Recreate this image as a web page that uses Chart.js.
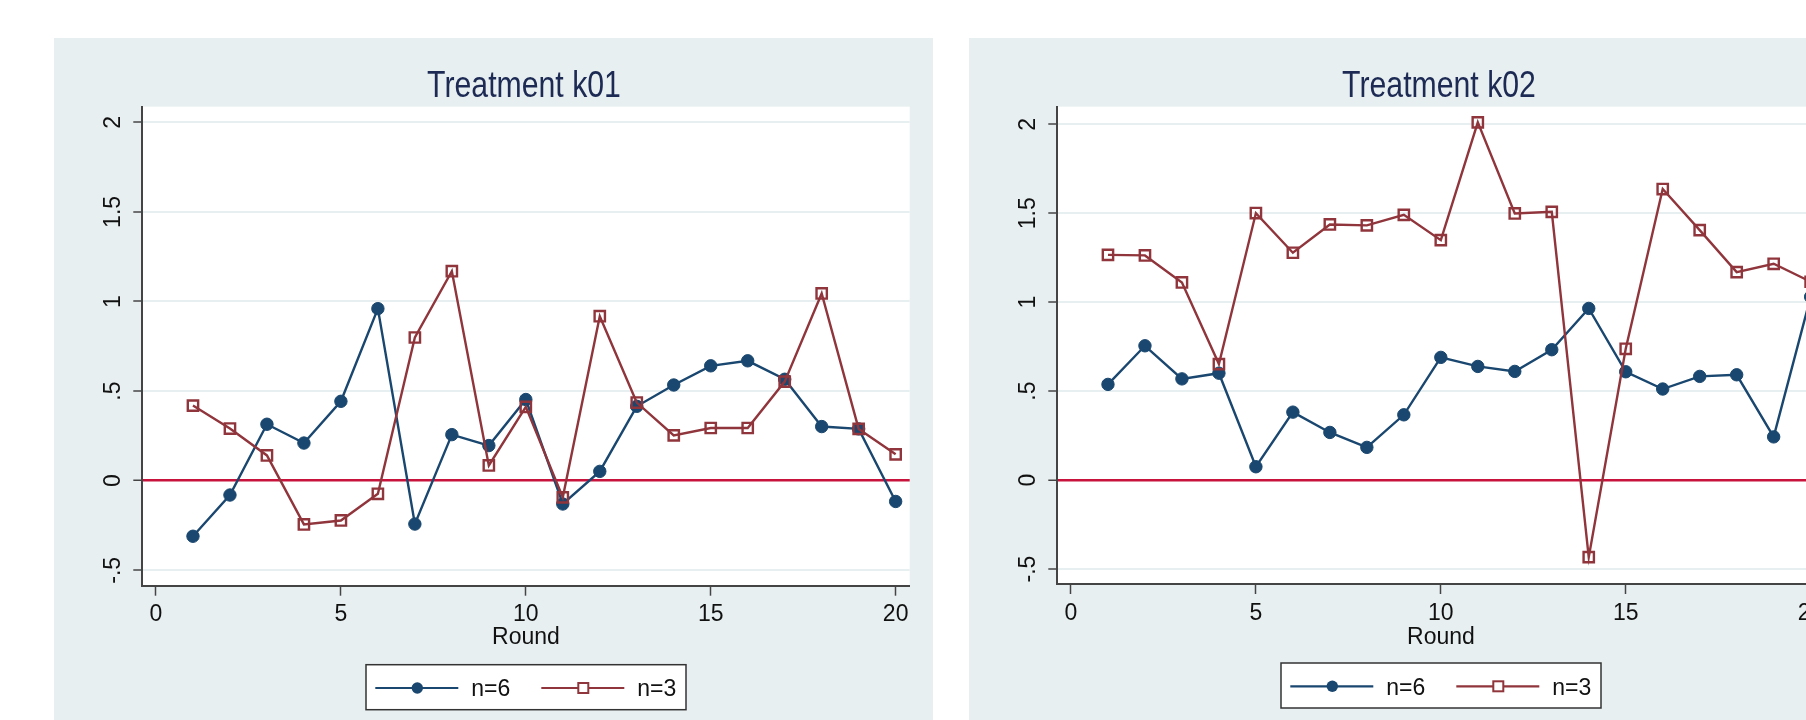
<!DOCTYPE html>
<html>
<head>
<meta charset="utf-8">
<title>Treatment k01 / k02</title>
<script src="https://cdn.jsdelivr.net/npm/chart.js@4.4.1/dist/chart.umd.min.js"></script>
<style>
  html, body { margin: 0; padding: 0; background: #fff; overflow: hidden; }
  #page { position: relative; width: 1806px; height: 720px; overflow: hidden; background: #fff; }
  .panel { position: absolute; top: 38px; width: 879px; height: 682px; background: #e8eff1; }
  #panel1 { left: 54px; }
  #panel2 { left: 969px; }
</style>
</head>
<body>
<div id="page">
  <div class="panel" id="panel1"><canvas id="k01" width="879" height="682"></canvas></div>
  <div class="panel" id="panel2"><canvas id="k02" width="879" height="682"></canvas></div>
</div>
<script>
// data
const rounds = [1, 2, 3, 4, 5, 6, 7, 8, 9, 10, 11, 12, 13, 14, 15, 16, 17, 18, 19, 20];
const seriesLabels = ['n=6', 'n=3'];
const panelTitles = ['Treatment k01', 'Treatment k02'];
const xAxisTitle = 'Round';

const k01N6 = [-0.31, -0.08, 0.315, 0.21, 0.443, 0.96, -0.242, 0.257, 0.196, 0.453,
               -0.13, 0.052, 0.415, 0.534, 0.641, 0.669, 0.566, 0.302, 0.289, -0.116];
const k01N3 = [0.419, 0.291, 0.141, -0.244, -0.222, -0.073, 0.799, 1.169, 0.085, 0.412,
               -0.093, 0.918, 0.436, 0.253, 0.294, 0.294, 0.553, 1.045, 0.289, 0.147];
const k02N6 = [0.538, 0.755, 0.569, 0.601, 0.075, 0.382, 0.268, 0.184, 0.367, 0.69,
               0.639, 0.611, 0.733, 0.965, 0.609, 0.512, 0.583, 0.592, 0.243, 1.03];
const k02N3 = [1.266, 1.263, 1.111, 0.652, 1.501, 1.278, 1.437, 1.432, 1.491, 1.349,
               2.011, 1.499, 1.508, -0.433, 0.738, 1.636, 1.405, 1.169, 1.216, 1.115];

const xTicks = [0, 5, 10, 15, 20];
const yTicks = [-0.5, 0, 0.5, 1, 1.5, 2];
const yTickLabels = ['-.5', '0', '.5', '1', '1.5', '2'];

const FONT = '"Liberation Sans", Arial, sans-serif';
const NAVY = '#1a476f';
const MAROON = '#90353b';
const ZERO_RED = '#c8143c';
const GRID = '#e8eff1';
const AXIS = '#444';

// white plot region like Stata's plotregion
const plotBackground = {
  id: 'plotBackground',
  beforeDraw(chart) {
    const { ctx, chartArea: a } = chart;
    ctx.save();
    ctx.fillStyle = '#fff';
    ctx.fillRect(a.left, a.top, a.right - a.left, a.bottom - a.top);
    ctx.restore();
  }
};

// the title in the picture is a narrow face, so squeeze it a bit
const condensedTitle = {
  id: 'condensedTitle',
  afterDraw(chart, args, opts) {
    const { ctx, chartArea } = chart;
    ctx.save();
    ctx.font = '36px ' + FONT;
    ctx.fillStyle = opts.color;
    ctx.textAlign = 'center';
    ctx.textBaseline = 'alphabetic';
    ctx.translate((chartArea.left + chartArea.right) / 2 - 2, chartArea.top - 9.4);
    ctx.scale(0.84, 1);
    ctx.fillText(opts.text, 0, 0);
    ctx.restore();
  }
};

// boxed legend: line with the marker sitting in the middle
const stataLegend = {
  id: 'stataLegend',
  afterDraw(chart) {
    const { ctx, chartArea } = chart;
    const boxW = 320, boxH = 45;
    const left = (chartArea.left + chartArea.right) / 2 - boxW / 2;
    const top = chartArea.bottom + 79;
    ctx.save();
    ctx.fillStyle = '#fff';
    ctx.fillRect(left, top, boxW, boxH);
    ctx.strokeStyle = '#333';
    ctx.lineWidth = 1.5;
    ctx.strokeRect(left, top, boxW, boxH);

    const lineY = top + 23.3;
    chart.data.datasets.forEach((ds, i) => {
      const x0 = left + 9.3 + i * 166;
      ctx.strokeStyle = ds.borderColor;
      ctx.lineWidth = 2.2;
      ctx.beginPath();
      ctx.moveTo(x0, lineY);
      ctx.lineTo(x0 + 83, lineY);
      ctx.stroke();
      const mx = x0 + 42;
      if (ds.pointStyle === 'circle') {
        ctx.fillStyle = ds.borderColor;
        ctx.beginPath();
        ctx.arc(mx, lineY, 5.7, 0, Math.PI * 2);
        ctx.fill();
      } else {
        ctx.fillStyle = '#fff';
        ctx.fillRect(mx - 5, lineY - 5, 10, 10);
        ctx.lineWidth = 2;
        ctx.strokeRect(mx - 5, lineY - 5, 10, 10);
      }
      ctx.fillStyle = '#111';
      ctx.font = '23px ' + FONT;
      ctx.textBaseline = 'alphabetic';
      ctx.textAlign = 'left';
      ctx.fillText(ds.label, x0 + 96, top + 31.7);
    });
    ctx.restore();
  }
};

function toPoints(values) {
  return rounds.map((r, i) => ({ x: r, y: values[i] }));
}

function makePanel(canvasId, title, n6, n3, yMin, yMax, xAxisHeight) {
  const ctx = document.getElementById(canvasId).getContext('2d');
  return new Chart(ctx, {
    type: 'line',
    data: {
      datasets: [
        {
          label: seriesLabels[0],
          data: toPoints(n6),
          borderColor: NAVY,
          backgroundColor: NAVY,
          borderWidth: 2.4,
          pointStyle: 'circle',
          pointRadius: 6.2,
          pointBackgroundColor: NAVY,
          pointBorderColor: NAVY,
          pointBorderWidth: 1,
          tension: 0,
          order: 2
        },
        {
          label: seriesLabels[1],
          data: toPoints(n3),
          borderColor: MAROON,
          backgroundColor: MAROON,
          borderWidth: 2.4,
          pointStyle: 'rect',
          pointRadius: 7.3,
          pointBackgroundColor: 'rgba(0,0,0,0)',
          pointBorderColor: MAROON,
          pointBorderWidth: 2.4,
          tension: 0,
          order: 1
        }
      ]
    },
    options: {
      responsive: false,
      animation: false,
      devicePixelRatio: 1,
      layout: { padding: { left: 0, top: 68.7, right: 23.3, bottom: 0 } },
      plugins: {
        legend: { display: false },
        tooltip: { enabled: false },
        title: { display: false },
        condensedTitle: { text: title, color: '#1c2a54' }
      },
      scales: {
        x: {
          type: 'linear',
          min: -0.37,
          max: 20.38,
          afterBuildTicks: scale => { scale.ticks = xTicks.map(v => ({ value: v })); },
          afterFit: scale => { scale.height = xAxisHeight; },
          ticks: {
            autoSkip: false,
            maxRotation: 0,
            padding: 5.5,
            color: '#111',
            font: { family: FONT, size: 23 },
            callback: v => String(v)
          },
          grid: {
            drawOnChartArea: false,
            drawTicks: true,
            tickLength: 10,
            tickColor: AXIS,
            tickWidth: 1.5
          },
          border: { display: true, color: AXIS, width: 2 },
          title: {
            display: true,
            text: xAxisTitle,
            color: '#111',
            font: { family: FONT, size: 23 },
            padding: { top: 0, bottom: 68.5 }
          }
        },
        y: {
          type: 'linear',
          min: yMin,
          max: yMax,
          afterBuildTicks: scale => { scale.ticks = yTicks.map(v => ({ value: v })); },
          afterFit: scale => { scale.width = 88.3; },
          ticks: {
            autoSkip: false,
            minRotation: 90,
            maxRotation: 90,
            crossAlign: 'center',
            padding: 3.5,
            color: '#111',
            font: { family: FONT, size: 23 },
            callback: v => yTickLabels[yTicks.indexOf(v)]
          },
          grid: {
            color: c => (c.tick && c.tick.value === 0 ? ZERO_RED : GRID),
            lineWidth: c => (c.tick && c.tick.value === 0 ? 2.5 : 2),
            drawTicks: true,
            tickLength: 9,
            tickColor: AXIS,
            tickWidth: 1.5
          },
          border: { display: true, color: AXIS, width: 2 }
        }
      }
    },
    plugins: [plotBackground, condensedTitle, stataLegend]
  });
}

makePanel('k01', panelTitles[0], k01N6, k01N3, -0.586, 2.087, 134.3);
makePanel('k02', panelTitles[1], k02N6, k02N3, -0.584, 2.099, 136);
</script>
</body>
</html>
